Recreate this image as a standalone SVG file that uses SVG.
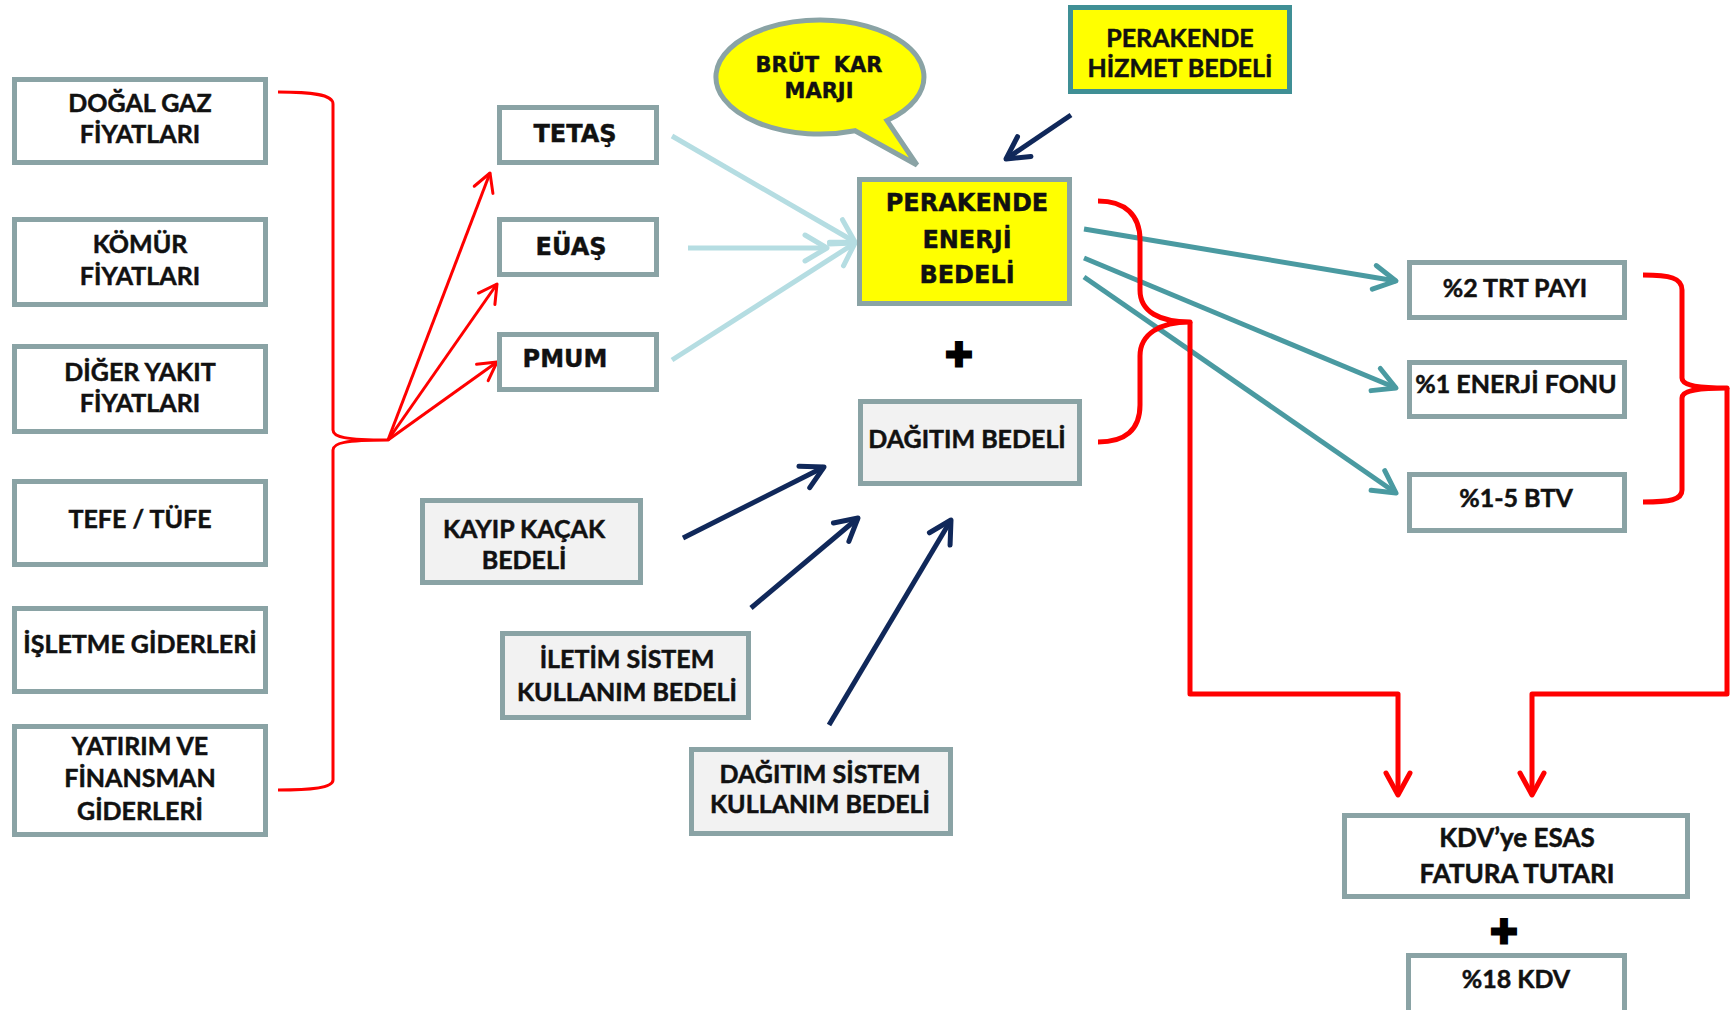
<svg xmlns="http://www.w3.org/2000/svg" width="1736" height="1010" viewBox="0 0 1736 1010">
<style>
  .box { fill: #ffffff; stroke: #8aa3a5; stroke-width: 5; }
  .gbox { fill: #f2f2f2; stroke: #8aa3a5; stroke-width: 5; }
  .ybox { fill: #ffff00; stroke: #8aa3a5; stroke-width: 5; }
  .tbox { fill: #ffff00; stroke: #3f8f95; stroke-width: 5; }
  .t { font-family: Lato, "Liberation Sans", sans-serif; font-weight: bold; font-size: 25px; fill: #111111; text-anchor: middle; stroke: #111111; stroke-width: 0.5; }
  .w { font-family: "DejaVu Sans", "Liberation Sans", sans-serif; font-weight: bold; font-size: 24px; fill: #111111; text-anchor: middle; stroke: #111111; stroke-width: 0.4; }
  .red { fill: none; stroke: #ff0000; stroke-width: 3; stroke-linejoin: round; }
  .redk { fill: none; stroke: #ff0000; stroke-width: 5; stroke-linejoin: round; }
  .lb { fill: none; stroke: #b5dde2; stroke-width: 5; }
  .teal { fill: none; stroke: #4a9aa1; stroke-width: 5; }
  .navy { fill: none; stroke: #10285a; stroke-width: 5; }
</style>
<defs>
  <marker id="mRed" viewBox="-30 -20 40 40" refX="0" refY="0" markerWidth="40" markerHeight="40" markerUnits="userSpaceOnUse" orient="auto">
    <path d="M -18,-10 L 0,0 L -18,10" fill="none" stroke="#ff0000" stroke-width="3" stroke-linecap="round" stroke-linejoin="round"/>
  </marker>
  <marker id="mRedK" viewBox="-30 -20 40 40" refX="0" refY="0" markerWidth="40" markerHeight="40" markerUnits="userSpaceOnUse" orient="auto">
    <path d="M -22,-12 L 0,0 L -22,12" fill="none" stroke="#ff0000" stroke-width="5" stroke-linecap="round" stroke-linejoin="round"/>
  </marker>
  <marker id="mLb" viewBox="-30 -20 40 40" refX="0" refY="0" markerWidth="40" markerHeight="40" markerUnits="userSpaceOnUse" orient="auto">
    <path d="M -22,-13 L 0,0 L -22,13" fill="none" stroke="#b5dde2" stroke-width="5" stroke-linecap="round" stroke-linejoin="round"/>
  </marker>
  <marker id="mTeal" viewBox="-30 -20 40 40" refX="0" refY="0" markerWidth="40" markerHeight="40" markerUnits="userSpaceOnUse" orient="auto">
    <path d="M -22,-12 L 0,0 L -22,12" fill="none" stroke="#4a9aa1" stroke-width="5" stroke-linecap="round" stroke-linejoin="round"/>
  </marker>
  <marker id="mNavy" viewBox="-30 -20 40 40" refX="0" refY="0" markerWidth="40" markerHeight="40" markerUnits="userSpaceOnUse" orient="auto">
    <path d="M -22,-12 L 0,0 L -22,12" fill="none" stroke="#10285a" stroke-width="5" stroke-linecap="round" stroke-linejoin="round"/>
  </marker>
</defs>
<rect width="1736" height="1010" fill="#ffffff"/>

<g id="connectors">
  <!-- left brace -->
  <path class="red" d="M 278,92 C 310,92 333,94 333,104 L 333,430 C 333,437 345,440 388,440 C 345,440 333,443 333,450 L 333,780 C 333,788 310,790 278,790"/>
  <line class="red" x1="388" y1="440" x2="490" y2="173" marker-end="url(#mRed)"/>
  <line class="red" x1="388" y1="440" x2="497" y2="284" marker-end="url(#mRed)"/>
  <line class="red" x1="388" y1="440" x2="497" y2="362" marker-end="url(#mRed)"/>
  <!-- light blue -->
  <line class="lb" x1="672" y1="136" x2="855" y2="242" marker-end="url(#mLb)"/>
  <line class="lb" x1="688" y1="248" x2="827" y2="248" marker-end="url(#mLb)"/>
  <line class="lb" x1="672" y1="360" x2="855" y2="243" marker-end="url(#mLb)"/>
  <!-- navy -->
  <line class="navy" x1="1071" y1="115" x2="1006" y2="159" marker-end="url(#mNavy)"/>
  <line class="navy" x1="683" y1="538" x2="824" y2="467" marker-end="url(#mNavy)"/>
  <line class="navy" x1="751" y1="608" x2="858" y2="518" marker-end="url(#mNavy)"/>
  <line class="navy" x1="829" y1="725" x2="951" y2="520" marker-end="url(#mNavy)"/>
  <!-- teal -->
  <line class="teal" x1="1084" y1="229" x2="1396" y2="281" marker-end="url(#mTeal)"/>
  <line class="teal" x1="1084" y1="258" x2="1396" y2="388" marker-end="url(#mTeal)"/>
  <line class="teal" x1="1084" y1="277" x2="1396" y2="493" marker-end="url(#mTeal)"/>
  <!-- middle brace -->
  <path class="redk" d="M 1098,201 C 1125,201 1140,215 1140,240 L 1140,290 C 1140,312 1160,322 1190,322 C 1160,322 1140,334 1140,356 L 1140,405 C 1140,430 1125,442 1098,442"/>
  <path class="redk" d="M 1190,322 L 1190,694 L 1398,694 L 1398,795" marker-end="url(#mRedK)"/>
  <!-- right brace -->
  <path class="redk" d="M 1643,275 C 1670,275 1682,278 1682,290 L 1682,378 C 1682,385 1695,388 1727,388 C 1695,388 1682,391 1682,398 L 1682,490 C 1682,500 1670,502 1643,502"/>
  <path class="redk" d="M 1727,388 L 1727,694 L 1532,694 L 1532,795" marker-end="url(#mRedK)"/>
</g>

<g id="n-dogalgaz">
  <rect class="box" x="14.5" y="79.5" width="251" height="83"/>
  <text class="t" x="140" y="112">DOĞAL GAZ</text>
  <text class="t" x="140" y="143">FİYATLARI</text>
</g>
<g id="n-komur">
  <rect class="box" x="14.5" y="219.5" width="251" height="85"/>
  <text class="t" x="140" y="253">KÖMÜR</text>
  <text class="t" x="140" y="285">FİYATLARI</text>
</g>
<g id="n-diger">
  <rect class="box" x="14.5" y="346.5" width="251" height="85"/>
  <text class="t" x="140" y="381">DİĞER YAKIT</text>
  <text class="t" x="140" y="412">FİYATLARI</text>
</g>
<g id="n-tefe">
  <rect class="box" x="14.5" y="481.5" width="251" height="83"/>
  <text class="t" x="140" y="528">TEFE / TÜFE</text>
</g>
<g id="n-isletme">
  <rect class="box" x="14.5" y="608.5" width="251" height="83"/>
  <text class="t" x="140" y="653">İŞLETME GİDERLERİ</text>
</g>
<g id="n-yatirim">
  <rect class="box" x="14.5" y="726.5" width="251" height="108"/>
  <text class="t" x="140" y="755">YATIRIM VE</text>
  <text class="t" x="140" y="787">FİNANSMAN</text>
  <text class="t" x="140" y="820">GİDERLERİ</text>
</g>

<g id="n-tetas">
  <rect class="box" x="499.5" y="107.5" width="157" height="55"/>
  <text class="w" x="575" y="142">TETAŞ</text>
</g>
<g id="n-euas">
  <rect class="box" x="499.5" y="219.5" width="157" height="55"/>
  <text class="w" x="571" y="255">EÜAŞ</text>
</g>
<g id="n-pmum">
  <rect class="box" x="499.5" y="334.5" width="157" height="55"/>
  <text class="w" x="565" y="367">PMUM</text>
</g>

<g id="n-brut">
  <path class="ybox" stroke-width="4" d="M 855,130.7 A 104 57 0 1 1 887,120.6 L 917,165 Z"/>
  <text class="w" style="font-size:21px" x="819" y="72" xml:space="preserve">BRÜT  KAR</text>
  <text class="w" style="font-size:21px" x="819" y="98">MARJI</text>
</g>

<g id="n-hizmet">
  <rect class="tbox" x="1070.5" y="7.5" width="219" height="84"/>
  <text class="t" x="1180" y="47">PERAKENDE</text>
  <text class="t" x="1180" y="77">HİZMET BEDELİ</text>
</g>

<g id="n-enerji">
  <rect class="ybox" x="859.5" y="179.5" width="210" height="124"/>
  <text class="w" x="967" y="211">PERAKENDE</text>
  <text class="w" x="967" y="248">ENERJİ</text>
  <text class="w" x="967" y="283">BEDELİ</text>
</g>

<g id="plus1">
  <text x="959" y="370" style="font-family:'Liberation Sans',sans-serif;font-weight:bold;font-size:46px;fill:#000;stroke:#000;stroke-width:3;text-anchor:middle">+</text>
</g>

<g id="n-dagitim">
  <rect class="gbox" x="860.5" y="401.5" width="219" height="82"/>
  <text class="t" x="967" y="448">DAĞITIM BEDELİ</text>
</g>
<g id="n-kayip">
  <rect class="gbox" x="422.5" y="500.5" width="218" height="82"/>
  <text class="t" x="524" y="538">KAYIP KAÇAK</text>
  <text class="t" x="524" y="569">BEDELİ</text>
</g>
<g id="n-iletim">
  <rect class="gbox" x="502.5" y="633.5" width="246" height="84"/>
  <text class="t" x="627" y="668">İLETİM SİSTEM</text>
  <text class="t" x="627" y="701">KULLANIM BEDELİ</text>
</g>
<g id="n-dagsistem">
  <rect class="gbox" x="691.5" y="749.5" width="259" height="84"/>
  <text class="t" x="820" y="783">DAĞITIM SİSTEM</text>
  <text class="t" x="820" y="813">KULLANIM BEDELİ</text>
</g>

<g id="n-trt">
  <rect class="box" x="1409.5" y="262.5" width="215" height="55"/>
  <text class="t" x="1515" y="297">%2 TRT PAYI</text>
</g>
<g id="n-fon">
  <rect class="box" x="1409.5" y="362.5" width="215" height="54"/>
  <text class="t" x="1516" y="393">%1 ENERJİ FONU</text>
</g>
<g id="n-btv">
  <rect class="box" x="1409.5" y="474.5" width="215" height="56"/>
  <text class="t" x="1516" y="507">%1-5 BTV</text>
</g>
<g id="n-kdvesas">
  <rect class="box" x="1344.5" y="815.5" width="343" height="81"/>
  <text class="t" style="font-size:26px" x="1517" y="847">KDV’ye ESAS</text>
  <text class="t" style="font-size:26px" x="1517" y="883">FATURA TUTARI</text>
</g>
<g id="plus2">
  <text x="1504" y="947" style="font-family:'Liberation Sans',sans-serif;font-weight:bold;font-size:46px;fill:#000;stroke:#000;stroke-width:3;text-anchor:middle">+</text>
</g>
<g id="n-kdv">
  <rect class="box" x="1408.5" y="955.5" width="216" height="60"/>
  <text class="t" x="1516" y="988">%18 KDV</text>
</g>
</svg>
